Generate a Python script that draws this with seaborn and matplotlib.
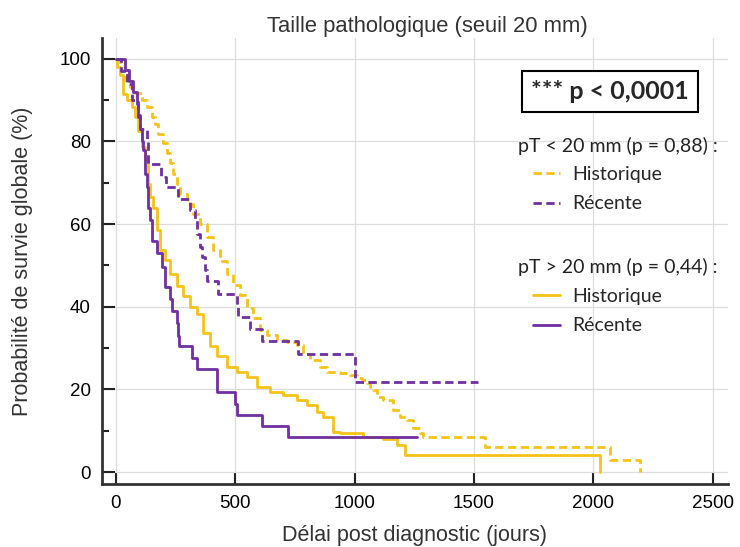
import matplotlib.pyplot as plt
import seaborn as sns
import pandas as pd
from matplotlib.lines import Line2D
from matplotlib.ticker import MultipleLocator

# courbes de Kaplan-Meier : (jours, % de survie)
hist_petit_jours = [0, 19, 40, 61, 82, 110, 130, 151, 165, 179, 200, 214, 228, 242, 256,
                    270, 298, 326, 354, 382, 409, 437, 465, 493, 521, 549, 577, 605,
                    633, 674, 716, 758, 786, 814, 856, 884, 939, 981, 1009, 1030, 1051,
                    1065, 1079, 1093, 1121, 1162, 1190, 1218, 1246, 1274, 1288, 1546,
                    2069, 2195]
hist_petit_surv = [100, 97.2, 94.8, 93.2, 91.6, 89.9, 88.3, 85.9, 84.3, 81.9, 79.5, 77.1,
                   74.7, 72, 69.8, 67.3, 64.9, 62.5, 60.1, 56.9, 53.7, 51, 48, 45.2,
                   42.8, 39.6, 37.2, 34.4, 33.2, 31.9, 31.5, 30.7, 28.7, 27.1, 25.5,
                   24.3, 23.9, 23.5, 22.7, 22.3, 21.5, 20.7, 19.9, 18.3, 17.5, 15.1,
                   13.4, 12.6, 10.6, 9.4, 8.6, 6.0, 3.0, 0]

rec_petit_jours = [0, 22, 47, 70, 95, 103, 132, 137, 190, 212, 260, 310, 333, 340, 354,
                   361, 374, 382, 430, 507, 514, 563, 612, 765, 1002, 1518]
rec_petit_surv = [100, 97, 94, 90, 86.5, 83, 80, 74.5, 71.5, 69, 66, 63.4, 61, 57.7,
                  54.5, 52, 49, 46.2, 43.2, 40, 37.6, 34.6, 31.7, 28.7, 21.7, 21.7]

hist_grand_jours = [0, 5, 19, 33, 47, 68, 82, 95, 110, 123, 137, 144, 158, 172, 186, 207,
                    228, 256, 284, 312, 340, 367, 395, 423, 465, 507, 549, 591, 646,
                    702, 758, 800, 842, 870, 911, 939, 1037, 1120, 1177, 1211, 2027]
hist_grand_surv = [100, 98, 96, 91.5, 89.9, 88.3, 85.9, 82.6, 78.6, 75.4, 69.8, 66.5,
                   64, 58.5, 53.7, 51.2, 48, 45, 42.5, 40, 38.2, 33.6, 30.4, 28, 25.5,
                   24.3, 23.1, 20.7, 19.5, 18.7, 17.5, 16.3, 14.6, 13.4, 9.8, 9.4, 8.6,
                   8.0, 6.6, 4.2, 0]

rec_grand_jours = [0, 40, 58, 74, 89, 95, 103, 110, 116, 123, 130, 137, 144, 151, 172,
                   193, 207, 228, 235, 256, 260, 265, 319, 340, 423, 500, 507, 612,
                   723, 1260]
rec_grand_surv = [100, 97.3, 94.7, 91.9, 89, 86, 83, 80, 77.8, 72, 69, 64, 61, 56, 53,
                  49.6, 44.8, 42, 39, 36, 33, 30.4, 27.7, 25, 19.4, 16.6, 13.8, 11.2,
                  8.5, 8.5]

JAUNE = '#F5C218'
VIOLET = '#7030A0'

sns.set_theme(style='white')
plt.rcParams['font.family'] = ['Liberation Sans', 'DejaVu Sans']


def serie(jours, surv, cohorte, taille):
    return pd.DataFrame({'jours': jours, 'survie': surv,
                         'cohorte': cohorte, 'taille': taille})


df = pd.concat([
    serie(hist_petit_jours, hist_petit_surv, 'Historique', '< 20 mm'),
    serie(rec_petit_jours, rec_petit_surv, 'Récente', '< 20 mm'),
    serie(hist_grand_jours, hist_grand_surv, 'Historique', '> 20 mm'),
    serie(rec_grand_jours, rec_grand_surv, 'Récente', '> 20 mm'),
], ignore_index=True)

fig = plt.figure(figsize=(7.4, 5.47), dpi=100)
ax = fig.add_axes([0.1378, 0.1152, 0.846, 0.8153])

sns.lineplot(data=df, x='jours', y='survie', hue='cohorte', style='taille',
             palette={'Historique': JAUNE, 'Récente': VIOLET},
             dashes={'< 20 mm': (3, 1.6), '> 20 mm': ''},
             drawstyle='steps-post', estimator=None, sort=False,
             linewidth=2, legend=False, ax=ax)

ax.set_xlim(-57, 2563)
ax.set_ylim(-2.85, 105)
ax.set_xticks([0, 500, 1000, 1500, 2000, 2500])
ax.set_yticks([0, 20, 40, 60, 80, 100])
ax.yaxis.set_minor_locator(MultipleLocator(10))
ax.grid(True, which='major', color='#dddddd', linewidth=0.9)
ax.tick_params(which='major', direction='in', length=9, width=1.5,
               labelsize=13.5, colors='#222222', left=True, bottom=True)
ax.tick_params(which='minor', direction='in', length=5, width=1.5,
               colors='#222222', left=True)
ax.tick_params(axis='both', labelcolor='black')
ax.tick_params(axis='y', pad=8)
ax.tick_params(axis='x', pad=8)
for s in ['top', 'right']:
    ax.spines[s].set_visible(False)
for s in ['left', 'bottom']:
    ax.spines[s].set_color('#333333')
    ax.spines[s].set_linewidth(2)

ax.set_title('Taille pathologique (seuil 20 mm)', fontsize=15.8,
             color='#333333', pad=4, x=0.52)
ax.set_xlabel('Délai post diagnostic (jours)', fontsize=15.5, color='#333333',
              labelpad=9)
ax.set_ylabel('Probabilité de survie globale (%)', fontsize=15.5,
              color='#333333', labelpad=19)

# encart des p-values et légende
police = ['Lato', 'DejaVu Sans']
ax.text(0.8115, 0.881, '*** p < 0,0001', transform=ax.transAxes, ha='center',
        va='center', fontsize=18, fontweight='bold', family=police,
        bbox=dict(boxstyle='square,pad=0.36', fc='white', ec='black', lw=1.5))
ax.text(0.6645, 0.757, 'pT < 20 mm (p = 0,88) :', transform=ax.transAxes,
        ha='left', va='center', fontsize=14, family=police, color='#222222')
ax.text(0.6645, 0.486, 'pT > 20 mm (p = 0,44) :', transform=ax.transAxes,
        ha='left', va='center', fontsize=14, family=police, color='#222222')

opts = dict(frameon=False, loc='upper left', borderpad=0, borderaxespad=0,
            handlelength=1.4, handletextpad=0.62, labelspacing=0.64,
            prop={'family': police, 'size': 14})
h_pointille = [Line2D([], [], color=JAUNE, lw=2, dashes=(3, 1.6)),
               Line2D([], [], color=VIOLET, lw=2, dashes=(3, 1.6))]
h_plein = [Line2D([], [], color=JAUNE, lw=2),
           Line2D([], [], color=VIOLET, lw=2)]
leg1 = ax.legend(h_pointille, ['Historique', 'Récente'],
                 bbox_to_anchor=(0.6885, 0.713), **opts)
ax.add_artist(leg1)
ax.legend(h_plein, ['Historique', 'Récente'],
          bbox_to_anchor=(0.6885, 0.4395), **opts)

fig.savefig('out.png', dpi=100)
